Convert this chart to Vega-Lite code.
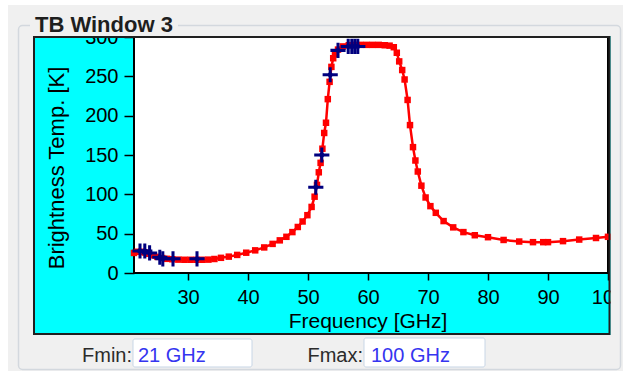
{
  "$schema": "https://vega.github.io/schema/vega-lite/v6.json",
  "width": 474,
  "height": 236,
  "autosize": {"type": "none"},
  "padding": {"left": 134, "top": 37, "right": 15, "bottom": 101},
  "background": "#00ffff",
  "datasets": {
    "model": [
      {"f": 21.0, "tb": 25.5}, {"f": 21.6, "tb": 27}, {"f": 22.2, "tb": 27}, {"f": 22.8, "tb": 26},
      {"f": 23.4, "tb": 24.5}, {"f": 24.1, "tb": 22.5}, {"f": 24.9, "tb": 20.5}, {"f": 25.7, "tb": 19},
      {"f": 26.5, "tb": 18}, {"f": 27.4, "tb": 17.5}, {"f": 28.4, "tb": 17}, {"f": 29.4, "tb": 16.8},
      {"f": 30.4, "tb": 16.8}, {"f": 31.4, "tb": 16.8}, {"f": 32.4, "tb": 16.8}, {"f": 33.4, "tb": 17},
      {"f": 34.4, "tb": 17.8}, {"f": 35.5, "tb": 19.3}, {"f": 36.8, "tb": 20.8}, {"f": 38.2, "tb": 23},
      {"f": 39.7, "tb": 25.8}, {"f": 41.2, "tb": 28.8}, {"f": 42.7, "tb": 32.5}, {"f": 44.1, "tb": 37},
      {"f": 45.3, "tb": 41.5}, {"f": 46.4, "tb": 46}, {"f": 47.4, "tb": 52}, {"f": 48.3, "tb": 58.5},
      {"f": 49.1, "tb": 65.5}, {"f": 49.9, "tb": 73.5}, {"f": 50.6, "tb": 84}, {"f": 51.1, "tb": 97},
      {"f": 51.5, "tb": 112}, {"f": 51.8, "tb": 128}, {"f": 52.1, "tb": 140}, {"f": 52.4, "tb": 158},
      {"f": 52.7, "tb": 178}, {"f": 53.0, "tb": 191}, {"f": 53.3, "tb": 221}, {"f": 53.6, "tb": 243},
      {"f": 53.9, "tb": 262}, {"f": 54.2, "tb": 273}, {"f": 54.5, "tb": 278}, {"f": 55.0, "tb": 284},
      {"f": 55.8, "tb": 288}, {"f": 56.8, "tb": 289.5}, {"f": 57.8, "tb": 290}, {"f": 58.8, "tb": 290},
      {"f": 59.8, "tb": 290}, {"f": 60.8, "tb": 290}, {"f": 61.8, "tb": 290}, {"f": 62.8, "tb": 289.5},
      {"f": 63.6, "tb": 289}, {"f": 64.3, "tb": 287}, {"f": 64.8, "tb": 280}, {"f": 65.2, "tb": 269},
      {"f": 65.7, "tb": 258}, {"f": 66.1, "tb": 246}, {"f": 66.6, "tb": 220}, {"f": 67.0, "tb": 188},
      {"f": 67.5, "tb": 160}, {"f": 67.9, "tb": 143}, {"f": 68.3, "tb": 129}, {"f": 68.9, "tb": 111},
      {"f": 69.6, "tb": 96}, {"f": 70.4, "tb": 85}, {"f": 71.3, "tb": 76.5}, {"f": 72.6, "tb": 66},
      {"f": 74.2, "tb": 58}, {"f": 75.9, "tb": 52}, {"f": 77.8, "tb": 48}, {"f": 80.0, "tb": 45.5},
      {"f": 82.6, "tb": 42}, {"f": 85.2, "tb": 40}, {"f": 87.5, "tb": 39.2}, {"f": 89.2, "tb": 39.2},
      {"f": 90.0, "tb": 39.2}, {"f": 92.5, "tb": 40.5}, {"f": 95.2, "tb": 42.5}, {"f": 98.0, "tb": 44.5},
      {"f": 100.0, "tb": 46}
    ],
    "meas": [
      {"f": 22.0, "tb": 28}, {"f": 22.8, "tb": 28}, {"f": 23.6, "tb": 25.5}, {"f": 25.3, "tb": 20},
      {"f": 25.8, "tb": 18}, {"f": 27.5, "tb": 18}, {"f": 31.5, "tb": 18}, {"f": 51.3, "tb": 109},
      {"f": 52.3, "tb": 150}, {"f": 53.7, "tb": 252}, {"f": 55.0, "tb": 283}, {"f": 56.7, "tb": 288},
      {"f": 57.3, "tb": 288}, {"f": 57.8, "tb": 288}, {"f": 58.3, "tb": 288}
    ]
  },
  "layer": [
    {
      "data": {"name": "model"},
      "mark": {"type": "line", "color": "#ff0000", "strokeWidth": 2.5},
      "encoding": {
        "x": {"field": "f", "type": "quantitative", "scale": {"domain": [21, 100], "nice": false, "zero": false},
              "axis": {"values": [30, 40, 50, 60, 70, 80, 90, 100], "title": "Frequency [GHz]"}},
        "y": {"field": "tb", "type": "quantitative", "scale": {"domain": [0, 300], "nice": false, "zero": false},
              "axis": {"values": [0, 50, 100, 150, 200, 250, 300], "title": "Brightness Temp. [K]"}}
      }
    },
    {
      "data": {"name": "model"},
      "mark": {"type": "point", "shape": "square", "filled": true, "color": "#ff0000", "size": 42, "opacity": 1},
      "encoding": {
        "x": {"field": "f", "type": "quantitative", "axis": {"values": [30, 40, 50, 60, 70, 80, 90, 100], "title": "Frequency [GHz]"}},
        "y": {"field": "tb", "type": "quantitative", "axis": {"values": [0, 50, 100, 150, 200, 250, 300], "title": "Brightness Temp. [K]"}}
      }
    },
    {
      "data": {"name": "meas"},
      "mark": {"type": "point", "shape": "M-1,-0.2L1,-0.2L1,0.2L-1,0.2Z M-0.2,-1L0.2,-1L0.2,1L-0.2,1Z M0,-0.55L0.45,0L0,0.55L-0.45,0Z", "filled": true, "color": "#00007f", "size": 230, "opacity": 1},
      "encoding": {
        "x": {"field": "f", "type": "quantitative", "axis": {"values": [30, 40, 50, 60, 70, 80, 90, 100], "title": "Frequency [GHz]"}},
        "y": {"field": "tb", "type": "quantitative", "axis": {"values": [0, 50, 100, 150, 200, 250, 300], "title": "Brightness Temp. [K]"}}
      }
    },
    {
      "data": {"values": [{}]},
      "mark": {"type": "rect", "filled": false, "stroke": "#f0f0f0", "strokeWidth": 80},
      "encoding": {
        "x": {"datum": -2.5, "type": "quantitative", "axis": {"values": [30, 40, 50, 60, 70, 80, 90, 100], "title": "Frequency [GHz]"}}, "x2": {"datum": 107.0833},
        "y": {"datum": 352.119, "type": "quantitative", "axis": {"values": [0, 50, 100, 150, 200, 250, 300], "title": "Brightness Temp. [K]"}}, "y2": {"datum": -129.661}
      }
    },
    {
      "data": {"values": [{}]},
      "mark": {"type": "rect", "filled": false, "stroke": "#ffffff", "strokeWidth": 60},
      "encoding": {
        "x": {"datum": -5, "type": "quantitative", "axis": {"values": [30, 40, 50, 60, 70, 80, 90, 100], "title": "Frequency [GHz]"}}, "x2": {"datum": 110.333},
        "y": {"datum": 378.814, "type": "quantitative", "axis": {"values": [0, 50, 100, 150, 200, 250, 300], "title": "Brightness Temp. [K]"}}, "y2": {"datum": -162.712}
      }
    },
    {
      "data": {"values": [{}]},
      "mark": {"type": "rect", "filled": false, "stroke": "#d3d8de", "strokeWidth": 1.5, "cornerRadius": 4},
      "encoding": {
        "x": {"datum": 1.75, "type": "quantitative", "axis": {"values": [30, 40, 50, 60, 70, 80, 90, 100], "title": "Frequency [GHz]"}}, "x2": {"datum": 102.0833},
        "y": {"datum": 314.619, "type": "quantitative", "axis": {"values": [0, 50, 100, 150, 200, 250, 300], "title": "Brightness Temp. [K]"}}, "y2": {"datum": -122.669}
      }
    },
    {
      "data": {"values": [{}]},
      "mark": {"type": "rect", "fill": "#f0f0f0", "strokeWidth": 0},
      "encoding": {
        "x": {"datum": 3.667, "type": "quantitative", "axis": {"values": [30, 40, 50, 60, 70, 80, 90, 100], "title": "Frequency [GHz]"}}, "x2": {"datum": 28.333},
        "y": {"datum": 324.152, "type": "quantitative", "axis": {"values": [0, 50, 100, 150, 200, 250, 300], "title": "Brightness Temp. [K]"}}, "y2": {"datum": 305.085}
      }
    },
    {
      "data": {"values": [{}]},
      "mark": {"type": "rect", "filled": false, "stroke": "#202020", "strokeWidth": 2},
      "encoding": {
        "x": {"datum": 4.3333, "type": "quantitative", "axis": {"values": [30, 40, 50, 60, 70, 80, 90, 100], "title": "Frequency [GHz]"}}, "x2": {"datum": 100.25},
        "y": {"datum": 300, "type": "quantitative", "axis": {"values": [0, 50, 100, 150, 200, 250, 300], "title": "Brightness Temp. [K]"}}, "y2": {"datum": -77.542}
      }
    },
    {
      "data": {"values": [{}]},
      "mark": {"type": "rect", "fill": "#ffffff", "stroke": "#c8d6e6", "strokeWidth": 1, "cornerRadius": 2},
      "encoding": {
        "x": {"datum": 20.8333, "type": "quantitative", "axis": {"values": [30, 40, 50, 60, 70, 80, 90, 100], "title": "Frequency [GHz]"}}, "x2": {"datum": 40.6667},
        "y": {"datum": -83.898, "type": "quantitative", "axis": {"values": [0, 50, 100, 150, 200, 250, 300], "title": "Brightness Temp. [K]"}}, "y2": {"datum": -119.491}
      }
    },
    {
      "data": {"values": [{}]},
      "mark": {"type": "rect", "fill": "#ffffff", "stroke": "#c8d6e6", "strokeWidth": 1, "cornerRadius": 2},
      "encoding": {
        "x": {"datum": 59.3333, "type": "quantitative", "axis": {"values": [30, 40, 50, 60, 70, 80, 90, 100], "title": "Frequency [GHz]"}}, "x2": {"datum": 79.5},
        "y": {"datum": -82.627, "type": "quantitative", "axis": {"values": [0, 50, 100, 150, 200, 250, 300], "title": "Brightness Temp. [K]"}}, "y2": {"datum": -119.491}
      }
    },
    {
      "data": {"values": [{}]},
      "mark": {"type": "text", "align": "left", "baseline": "alphabetic", "font": "Liberation Sans", "fontSize": 22, "fontWeight": "bold", "color": "#1e1e1e"},
      "encoding": {
        "x": {"datum": 4.5, "type": "quantitative", "axis": {"values": [30, 40, 50, 60, 70, 80, 90, 100], "title": "Frequency [GHz]"}},
        "y": {"datum": 306.356, "type": "quantitative", "axis": {"values": [0, 50, 100, 150, 200, 250, 300], "title": "Brightness Temp. [K]"}},
        "text": {"value": "TB Window 3"}
      }
    },
    {
      "data": {"values": [{}]},
      "mark": {"type": "text", "align": "right", "baseline": "alphabetic", "font": "Liberation Sans", "fontSize": 20, "color": "#2b2b2b"},
      "encoding": {
        "x": {"datum": 20.6667, "type": "quantitative", "axis": {"values": [30, 40, 50, 60, 70, 80, 90, 100], "title": "Frequency [GHz]"}},
        "y": {"datum": -113.136, "type": "quantitative", "axis": {"values": [0, 50, 100, 150, 200, 250, 300], "title": "Brightness Temp. [K]"}},
        "text": {"value": "Fmin:"}
      }
    },
    {
      "data": {"values": [{}]},
      "mark": {"type": "text", "align": "left", "baseline": "alphabetic", "font": "Liberation Sans", "fontSize": 20, "color": "#3535f0"},
      "encoding": {
        "x": {"datum": 21.6667, "type": "quantitative", "axis": {"values": [30, 40, 50, 60, 70, 80, 90, 100], "title": "Frequency [GHz]"}},
        "y": {"datum": -113.136, "type": "quantitative", "axis": {"values": [0, 50, 100, 150, 200, 250, 300], "title": "Brightness Temp. [K]"}},
        "text": {"value": "21 GHz"}
      }
    },
    {
      "data": {"values": [{}]},
      "mark": {"type": "text", "align": "right", "baseline": "alphabetic", "font": "Liberation Sans", "fontSize": 20, "color": "#2b2b2b"},
      "encoding": {
        "x": {"datum": 59.1667, "type": "quantitative", "axis": {"values": [30, 40, 50, 60, 70, 80, 90, 100], "title": "Frequency [GHz]"}},
        "y": {"datum": -113.136, "type": "quantitative", "axis": {"values": [0, 50, 100, 150, 200, 250, 300], "title": "Brightness Temp. [K]"}},
        "text": {"value": "Fmax:"}
      }
    },
    {
      "data": {"values": [{}]},
      "mark": {"type": "text", "align": "left", "baseline": "alphabetic", "font": "Liberation Sans", "fontSize": 20, "color": "#3535f0"},
      "encoding": {
        "x": {"datum": 60.5, "type": "quantitative", "axis": {"values": [30, 40, 50, 60, 70, 80, 90, 100], "title": "Frequency [GHz]"}},
        "y": {"datum": -113.136, "type": "quantitative", "axis": {"values": [0, 50, 100, 150, 200, 250, 300], "title": "Brightness Temp. [K]"}},
        "text": {"value": "100 GHz"}
      }
    }
  ],
  "config": {
    "font": "Liberation Sans",
    "view": {"fill": "#ffffff", "stroke": "#000000", "strokeWidth": 2},
    "axis": {
      "domain": false, "grid": false, "tickColor": "#000000", "tickWidth": 1.5,
      "labelColor": "#000000", "labelFontSize": 20, "labelFont": "Liberation Sans",
      "titleFont": "Liberation Sans", "titleFontWeight": "normal", "titleColor": "#000000", "titleFontSize": 21,
      "labelFlush": false, "labelOverlap": false, "labelBound": false, "zindex": 0
    },
    "axisX": {"tickSize": 7, "labelPadding": 7, "titleX": 233.5, "titleY": 54, "titleBaseline": "alphabetic", "titleAlign": "center"},
    "axisY": {"tickSize": 10, "labelPadding": 6, "titleX": -71, "titleY": 130.5, "titleAngle": 270, "titleBaseline": "alphabetic", "titleAlign": "center", "titleFontSize": 22}
  }
}
